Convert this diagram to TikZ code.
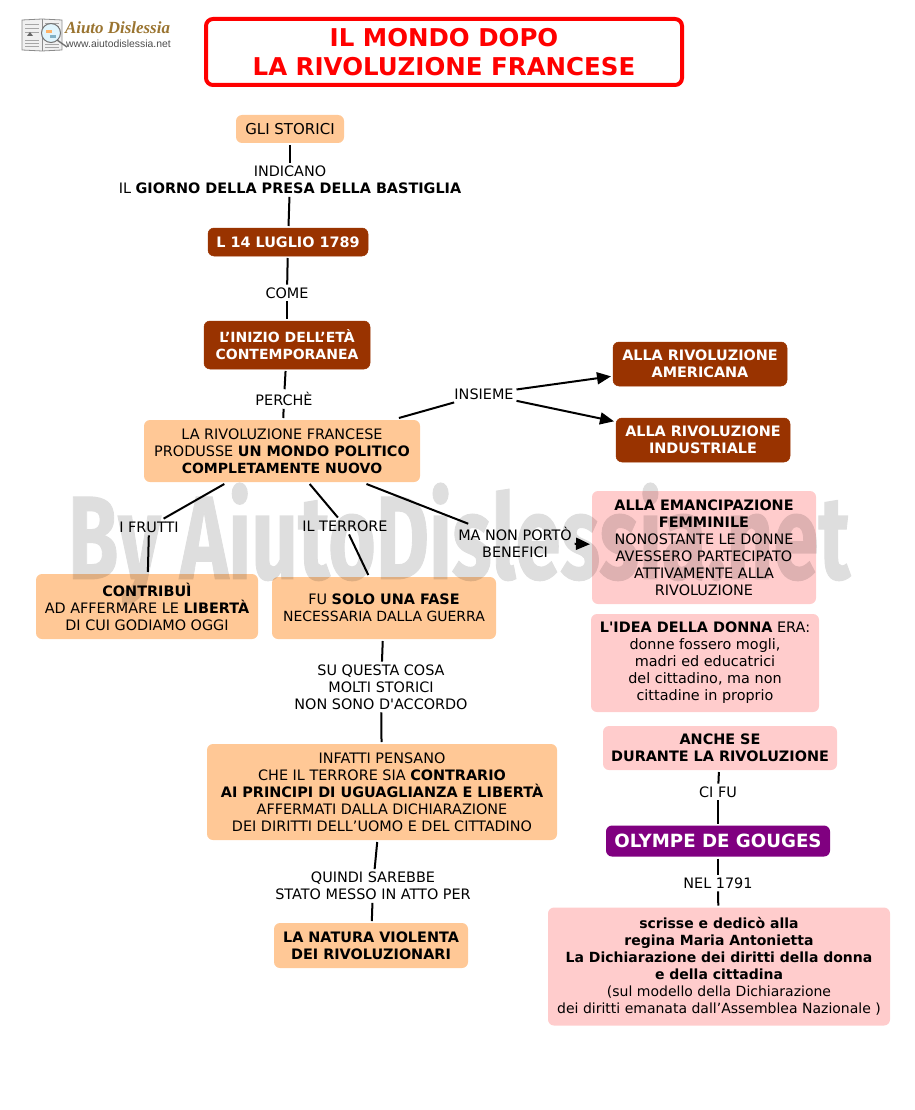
\documentclass[tikz,border=0pt]{standalone}
\usepackage{fontspec}
\usepackage{graphicx}
\setmainfont{DejaVu Sans}
\newfontfamily\wmfont{Fira Sans}
\newfontfamily\logofont{Liberation Sans}
\newfontfamily\logoserif{Liberation Serif}
\usetikzlibrary{arrows.meta}
\definecolor{orgc}{HTML}{FFC896}
\definecolor{brownc}{HTML}{993300}
\definecolor{pinkc}{HTML}{FFCCCC}
\definecolor{purplec}{HTML}{800080}
\definecolor{logog}{HTML}{9A7430}
\newcommand{\narrowfs}{\fontsize{14}{17}\selectfont}
\tikzset{
  bx/.style={rounded corners=6pt,inner sep=0pt,outer sep=2pt,align=center,font=\fontsize{14.4}{17}\selectfont,text=black},
  orgbox/.style={bx,fill=orgc},
  pinkbox/.style={bx,fill=pinkc},
  brownbox/.style={bx,fill=brownc,draw=brownc,line width=.5pt,text=white,font=\fontsize{14.4}{17}\selectfont\bfseries},
  lab/.style={inner sep=0pt,outer sep=3pt,align=center,font=\fontsize{14.4}{17}\selectfont,text=black},
  conn/.style={draw=black,line width=2pt},
  arr/.style={conn,-{Triangle[length=14pt,width=12pt]}},
  pageline/.style={black!35,line width=.7pt},
}
\begin{document}
\begin{tikzpicture}[x=1pt,y=-1pt]
\useasboundingbox (0,0) rectangle (914,1110);
% logo
\fill[black!6,draw=black!45,line width=.8pt] (22,20) -- (42,19) -- (62,20) -- (62,50) -- (42,51) -- (22,50) -- cycle;
\draw[black!45,line width=.6pt] (42,19) -- (42,51);
\foreach \yy in {24,28,32,40,43,46} {\draw[pageline] (25,\yy) -- (39,\yy);}
\foreach \yy in {23,26,44,47} {\draw[pageline] (45,\yy) -- (59,\yy);}
\fill[black!60] (27,36) -- (30,32) -- (33,36) -- cycle;
\draw[fill=cyan!12,draw=black!55,line width=1pt] (51,33) circle (9.5pt);
\fill[orange!60] (46,30) rectangle (52,33);
\fill[cyan!60!black!60] (50,35) rectangle (56,38);
\draw[black!55,line width=1.4pt] (57,40) -- (67,47);
\node[inner sep=0pt,text=logog,font=\logoserif\fontsize{17}{17}\selectfont\bfseries\itshape] (logotitle) at (117.5,28) {\resizebox{105pt}{\height}{Aiuto Dislessia}};
\node[inner sep=0pt,text=black!70,font=\logofont\fontsize{10.4}{10.4}\selectfont] (logourl) at (118.5,44) {www.aiutodislessia.net};
% title
\node[bx,draw=red,fill=white,line width=4pt,rounded corners=7pt,minimum width=476pt,minimum height=66pt,text=red,font=\fontsize{24.5}{29}\selectfont\bfseries] (title) at (444,52) {IL MONDO DOPO\\LA RIVOLUZIONE FRANCESE};
% boxes
\node[orgbox,minimum width=108pt,minimum height=28pt] (storici) at (290,129) {\fontsize{15}{17}\selectfont GLI STORICI};
\node[brownbox,minimum width=160pt,minimum height=28pt] (luglio) at (288,242) {L 14 LUGLIO 1789};
\node[brownbox,minimum width=166pt,minimum height=48pt,font=\narrowfs\bfseries] (inizio) at (287,345) {L’INIZIO DELL’ETÀ\\CONTEMPORANEA};
\node[orgbox,minimum width=276pt,minimum height=62pt] (rivfr) at (282,451) {LA RIVOLUZIONE FRANCESE\\PRODUSSE \textbf{UN MONDO POLITICO}\\{\narrowfs\textbf{COMPLETAMENTE NUOVO}}};
\node[brownbox,minimum width=174pt,minimum height=44pt] (amer) at (700,364) {ALLA RIVOLUZIONE\\AMERICANA};
\node[brownbox,minimum width=174pt,minimum height=44pt] (indu) at (703,440) {ALLA RIVOLUZIONE\\INDUSTRIALE};
\node[pinkbox,minimum width=224pt,minimum height=113pt] (eman) at (704,547.5) {\textbf{ALLA EMANCIPAZIONE}\\\textbf{FEMMINILE}\\NONOSTANTE LE DONNE\\AVESSERO PARTECIPATO\\ATTIVAMENTE ALLA\\RIVOLUZIONE};
\node[pinkbox,minimum width=228pt,minimum height=98pt] (idea) at (705,663) {\textbf{L\textquotesingle IDEA DELLA DONNA} ERA:\\donne fossero mogli,\\madri ed educatrici\\del cittadino, ma non\\cittadine in proprio};
\node[pinkbox,minimum width=234pt,minimum height=44pt] (anche) at (720,748) {\textbf{ANCHE SE}\\\textbf{DURANTE LA RIVOLUZIONE}};
\node[bx,fill=purplec,text=white,minimum width=224pt,minimum height=31pt,font=\fontsize{18.2}{22}\selectfont\bfseries] (olympe) at (718,841) {OLYMPE DE GOUGES};
\node[pinkbox,minimum width=342pt,minimum height=118pt,font=\narrowfs] (scrisse) at (719,966.5) {\textbf{scrisse e dedicò alla}\\\textbf{regina Maria Antonietta}\\\textbf{La Dichiarazione dei diritti della donna}\\\textbf{e della cittadina}\\(sul modello della Dichiarazione\\dei diritti emanata dall’Assemblea Nazionale )};
\node[orgbox,minimum width=222pt,minimum height=65pt] (contrib) at (147,606.5) {\textbf{CONTRIBUÌ}\\AD AFFERMARE LE \textbf{LIBERTÀ}\\DI CUI GODIAMO OGGI};
\node[orgbox,minimum width=224pt,minimum height=62pt] (fase) at (384,608) {FU \textbf{SOLO UNA FASE}\\{\narrowfs NECESSARIA DALLA GUERRA}};
\node[orgbox,minimum width=350pt,minimum height=96pt] (infatti) at (382,792) {INFATTI PENSANO\\CHE IL TERRORE SIA \textbf{CONTRARIO}\\\textbf{AI PRINCIPI DI UGUAGLIANZA E LIBERTÀ}\\AFFERMATI DALLA DICHIARAZIONE\\DEI DIRITTI DELL’UOMO E DEL CITTADINO};
\node[orgbox,minimum width=194pt,minimum height=45pt] (natura) at (371,945.5) {\textbf{LA NATURA VIOLENTA}\\\textbf{DEI RIVOLUZIONARI}};
% labels
\node[lab] (lindicano) at (290,180) {INDICANO\\IL \textbf{GIORNO DELLA PRESA DELLA BASTIGLIA}};
\node[lab] (lcome) at (287,293) {COME};
\node[lab] (lperche) at (284,399) {PERCHÈ};
\node[lab] (linsieme) at (484,394) {INSIEME};
\node[lab] (lfrutti) at (149,527) {I FRUTTI};
\node[lab] (lterrore) at (345,526) {IL TERRORE};
\node[lab] (lbenefici) at (515,542) {MA NON PORTÒ\\BENEFICI};
\node[lab] (lsu) at (381,687) {SU QUESTA COSA\\MOLTI STORICI\\NON SONO D\textquotesingle ACCORDO};
\node[lab] (lquindi) at (373,886) {QUINDI SAREBBE\\STATO MESSO IN ATTO PER};
\node[lab] (lcifu) at (718,792) {CI FU};
\node[lab] (lnel) at (718,883) {NEL 1791};
% connectors
\draw[conn] (storici) -- (lindicano);
\draw[conn] (lindicano) -- (luglio);
\draw[conn] (luglio) -- (lcome);
\draw[conn] (lcome) -- (inizio);
\draw[conn] (inizio) -- (lperche);
\draw[conn] (lperche) -- (rivfr);
\draw[conn] (rivfr) -- (linsieme);
\draw[arr] (linsieme) -- (amer);
\draw[arr] (linsieme) -- (indu);
\draw[conn] (rivfr) -- (lfrutti);
\draw[conn] (lfrutti) -- (contrib);
\draw[conn] (rivfr) -- (lterrore);
\draw[conn] (lterrore) -- (fase);
\draw[conn] (rivfr) -- (lbenefici);
\draw[arr] (lbenefici) -- (eman);
\draw[conn] (fase) -- (lsu);
\draw[conn] (lsu) -- (infatti);
\draw[conn] (infatti) -- (lquindi);
\draw[conn] (lquindi) -- (natura);
\draw[conn] (anche) -- (lcifu);
\draw[conn] (lcifu) -- (olympe);
\draw[conn] (olympe) -- (lnel);
\draw[conn] (lnel) -- (scrisse);
% watermark
\begin{scope}[transparency group,opacity=.13]
\node[inner sep=0pt,text=black,font=\wmfont\bfseries\fontsize{118}{118}\selectfont] (wm) at (459,544) {\special{pdf:code 2 Tr 1.2 w}\resizebox{782pt}{\height}{By AiutoDislessia.net}\special{pdf:code 0 Tr}};
\end{scope}
\end{tikzpicture}
\end{document}
